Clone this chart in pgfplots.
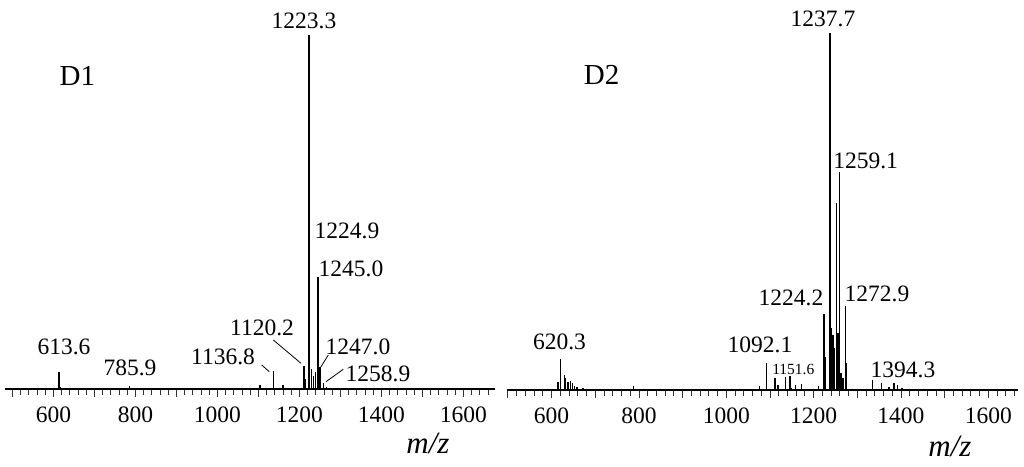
\documentclass[border=0pt]{standalone}
\usepackage{fontspec}
\setmainfont{Liberation Serif}
\usepackage{pgfplots}
\pgfplotsset{compat=1.18}
\begin{document}
\begin{tikzpicture}
\useasboundingbox (0pt,0pt) rectangle (1024pt,466pt);
\pgfplotsset{
  msaxis/.style={
    scale only axis,
    anchor=south west,
    axis x line=bottom,
    axis y line=none,
    axis line style={-, line width=1.6pt},
    ymin=0, ymax=100,
    xtick={500,600,...,1600},
    xticklabels={,600,,800,,1000,,1200,,1400,,1600},
    minor xtick={500,520,...,1660},
    tick align=outside,
    major tick length=8pt,
    minor tick length=6pt,
    tick style={line width=0.8pt, black!80},
    xticklabel style={font=\fontsize{23.5}{27}\selectfont, yshift=-6pt},
    /pgf/number format/assume math mode=true,
    clip=false,
  }
}
% ---------- D1 ----------
\begin{axis}[msaxis, at={(5pt,77pt)}, width=490pt, height=354pt, xmin=482, xmax=1677]
\addplot[ycomb, black, line width=1.4pt] coordinates {
(613.6,4.8) (618,0.6) (622,0.3) (785.9,0.9) (1104,1.1) (1136.8,5.1) (1159.5,1.1)
(1210.8,6.5) (1214.3,2.8) (1223.3,100) (1228.8,5.6) (1234.5,3.7) (1239.4,4.8)
(1245.0,31.6) (1250.5,6.2) (1258.9,1.7) (1265.5,0.6)
};
\end{axis}
% ---------- D2 ----------
\begin{axis}[msaxis, at={(507pt,76pt)}, width=511pt, height=357pt, xmin=498, xmax=1668]
\addplot[ycomb, black, line width=1.4pt] coordinates {
(615,2.3) (620.3,8.6) (629,4.2) (632,3.4) (638,2.3) (643.5,2.5) (648,1.9) (653,1.1)
(658.6,0.8) (672,0.5) (700,0.3) (787,1.1) (1076.5,1.2) (1092.1,7.6) (1111.5,3.5)
(1118.5,1.4) (1136,3.6) (1146,3.9) (1150,0.6) (1158.5,1.4) (1172.5,1.7) (1211,1.2)
(1224.2,21.2) (1226.8,9.3) (1237.7,100) (1240,17.4) (1244.5,15.4) (1248,11.8)
(1252,52.3) (1255.7,16) (1259.1,61) (1263,4.8) (1267,3.4) (1272.9,23.5) (1275.5,7.6)
(1286,0.3) (1296,0.3) (1305,0.3) (1335,2.8) (1355,2) (1373,0.9) (1384,2) (1392,1.4) (1402,0.6)
};
\end{axis}
% ---------- labels ----------
\begin{scope}[every node/.style={inner sep=0pt, font=\fontsize{23.5}{27}\selectfont}]
\node at (304pt,445.3pt) {1223.3};
\node at (347pt,235.3pt) {1224.9};
\node at (351pt,197pt) {1245.0};
\node at (262pt,137.7pt) {1120.2};
\node at (223pt,109.3pt) {1136.8};
\node at (358pt,119pt) {1247.0};
\node at (378pt,92pt) {1258.9};
\node at (64pt,119pt) {613.6};
\node at (130pt,97.7pt) {785.9};
\node[font=\fontsize{29}{32}\selectfont] at (77.3pt,390pt) {D1};
\node[font=\fontsize{31}{34}\selectfont\itshape] at (428pt,23pt) {m/z};
\node at (823pt,447pt) {1237.7};
\node at (865.6pt,305.3pt) {1259.1};
\node at (791pt,167.7pt) {1224.2};
\node at (877pt,172pt) {1272.9};
\node at (760pt,121pt) {1092.1};
\node[font=\fontsize{15.5}{18}\selectfont] at (793.3pt,97pt) {1151.6};
\node at (903pt,96pt) {1394.3};
\node at (559.5pt,124.3pt) {620.3};
\node[font=\fontsize{29}{32}\selectfont] at (601.7pt,391pt) {D2};
\node[font=\fontsize{31}{34}\selectfont\itshape] at (950pt,19.3pt) {m/z};
\end{scope}
\begin{scope}[line width=0.8pt]
\draw (273.3pt,126pt) -- (301pt,102.7pt);
\draw (261.7pt,101pt) -- (269.3pt,94.3pt);
\draw (328.3pt,111pt) -- (320pt,97.7pt);
\draw (343.3pt,96.7pt) -- (326pt,84.3pt);
\end{scope}
\end{tikzpicture}
\end{document}
